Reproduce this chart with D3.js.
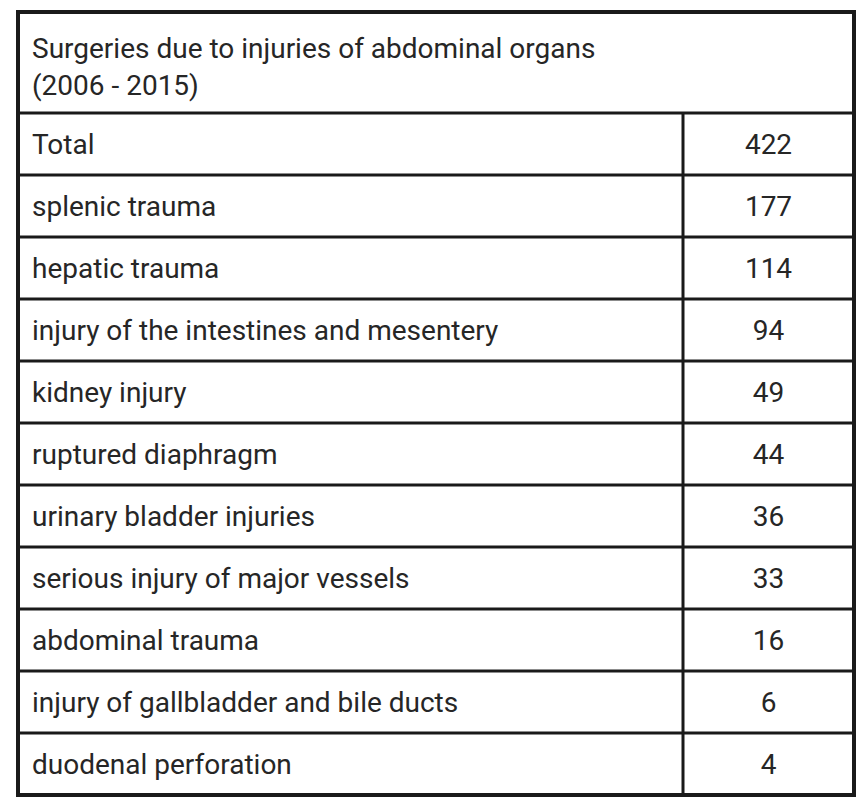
<!DOCTYPE html>
<html><head><meta charset="utf-8">
<script src="https://cdn.jsdelivr.net/npm/d3@7"></script>
<style>body{margin:0;background:#fff}</style></head>
<body><script>
const titleLines = ["Surgeries due to injuries of abdominal organs", "(2006 - 2015)"];
const categories = ["Total","splenic trauma","hepatic trauma","injury of the intestines and mesentery","kidney injury","ruptured diaphragm","urinary bladder injuries","serious injury of major vessels","abdominal trauma","injury of gallbladder and bile ducts","duodenal perforation"];
const values = [422,177,114,94,49,44,36,33,16,6,4];

(function(){
const W=868,H=800, x0=18, x1=854, y0=12, headerBottom=113, y1=795, colX=683;
const svg=d3.select("body").append("svg").attr("width",W).attr("height",H);
const y=d3.scaleBand().domain(categories).range([headerBottom,y1]);
const color="#262626", font="Roboto, 'Open Sans', sans-serif", fs=28;

svg.append("g").selectAll("text").data(titleLines).join("text")
  .attr("x",32).attr("y",(d,i)=>58+i*37).text(d=>d)
  .attr("font-family",font).attr("font-size",fs).attr("fill",color);

const rows=svg.append("g").selectAll("g").data(categories).join("g")
  .attr("transform",d=>`translate(0,${y(d)})`);
rows.append("text").attr("x",32).attr("y",y.bandwidth()/2+10).text(d=>d)
  .attr("font-family",font).attr("font-size",fs).attr("fill",color);
rows.append("text").attr("x",(colX+x1)/2).attr("y",y.bandwidth()/2+10)
  .attr("text-anchor","middle").text((d,i)=>values[i])
  .attr("font-family",font).attr("font-size",fs).attr("fill",color);

svg.append("g").selectAll("line").data(categories).join("line")
  .attr("x1",x0).attr("x2",x1).attr("y1",d=>y(d)).attr("y2",d=>y(d))
  .attr("stroke","#1a1a1a").attr("stroke-width",3);
svg.append("line").attr("x1",colX).attr("x2",colX).attr("y1",headerBottom).attr("y2",y1)
  .attr("stroke","#1a1a1a").attr("stroke-width",3);
svg.append("rect").attr("x",x0).attr("y",y0).attr("width",x1-x0).attr("height",y1-y0)
  .attr("fill","none").attr("stroke","#1a1a1a").attr("stroke-width",4);
})();
</script></body></html>
